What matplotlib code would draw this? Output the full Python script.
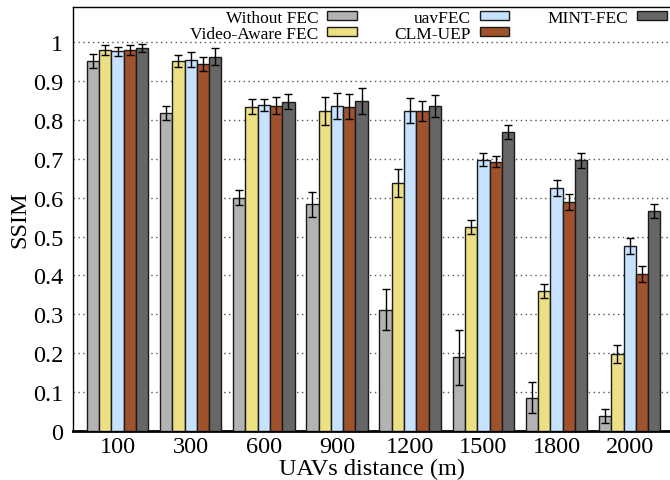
import numpy as np
import matplotlib
matplotlib.use("Agg")
import matplotlib.pyplot as plt

plt.rcParams['font.family'] = ['Liberation Serif', 'DejaVu Serif']

# data
distances = ['100', '300', '600', '900', '1200', '1500', '1800', '2000']
schemes = ['Without FEC', 'Video-Aware FEC', 'uavFEC', 'CLM-UEP', 'MINT-FEC']

without_fec = [0.952, 0.819, 0.600, 0.583, 0.312, 0.189, 0.086, 0.038]
without_fec_err = [0.018, 0.018, 0.020, 0.032, 0.052, 0.070, 0.040, 0.018]

video_aware = [0.979, 0.951, 0.834, 0.823, 0.639, 0.524, 0.359, 0.198]
video_aware_err = [0.013, 0.015, 0.020, 0.035, 0.036, 0.018, 0.018, 0.024]

uavfec = [0.976, 0.955, 0.838, 0.835, 0.824, 0.698, 0.625, 0.476]
uavfec_err = [0.012, 0.019, 0.016, 0.033, 0.033, 0.017, 0.020, 0.020]

clm_uep = [0.979, 0.945, 0.837, 0.834, 0.822, 0.693, 0.589, 0.404]
clm_uep_err = [0.013, 0.018, 0.021, 0.032, 0.026, 0.013, 0.020, 0.021]

mint_fec = [0.985, 0.963, 0.847, 0.849, 0.836, 0.769, 0.696, 0.566]
mint_fec_err = [0.010, 0.021, 0.020, 0.033, 0.028, 0.019, 0.019, 0.019]

values = [without_fec, video_aware, uavfec, clm_uep, mint_fec]
errors = [without_fec_err, video_aware_err, uavfec_err, clm_uep_err, mint_fec_err]
colors = ['#b3b3b3', '#eddf84', '#c6e2ff', '#a0522d', '#666666']

fig = plt.figure(figsize=(6.7, 4.81), dpi=100)
ax = fig.add_axes([0.109, 0.102, 0.892, 0.881])

x = np.arange(len(distances))
width = 0.168
for i, (vals, errs, col, name) in enumerate(zip(values, errors, colors, schemes)):
    pos = x + (i - 2) * width
    ax.bar(pos, vals, width=width, color=col, edgecolor='#1a1a1a', linewidth=1.0,
           label=name, zorder=3)
    ax.errorbar(pos, vals, yerr=errs, fmt='none', ecolor='black', elinewidth=1.0,
                capsize=3, capthick=1.0, zorder=4)

ax.set_xlim(-0.608, 7.56)
ax.set_ylim(0, 1.09)
ax.set_xticks(x)
ax.set_xticklabels(distances, fontsize=17.5)
yt = np.arange(0, 1.01, 0.1)
ax.set_yticks(yt)
ax.set_yticklabels(['0'] + ['%.1f' % v for v in yt[1:-1]] + ['1'], fontsize=17.5)
ax.tick_params(axis='both', length=0)
ax.tick_params(axis='y', pad=7)
ax.tick_params(axis='x', pad=4)

ax.yaxis.grid(True, linestyle=(0, (1, 2.5)), color='#555555', linewidth=1.0, zorder=0)
ax.set_axisbelow(True)

ax.spines['right'].set_visible(False)
ax.spines['bottom'].set_linewidth(2.0)
ax.spines['left'].set_linewidth(1.0)
ax.spines['top'].set_linewidth(1.0)

ax.set_xlabel('UAVs distance (m)', fontsize=17.5, labelpad=0)
ax.set_ylabel('SSIM', fontsize=17.5, labelpad=2)

ax.legend(loc='upper right', bbox_to_anchor=(1.0, 0.985), bbox_transform=fig.transFigure,
          ncol=3, frameon=False, markerfirst=False, fontsize=12.5,
          handlelength=1.7, handleheight=0.4, handletextpad=0.5,
          labelspacing=0.0, columnspacing=2.2, borderpad=0.0, borderaxespad=0.2)

fig.savefig('out.png', dpi=100)
